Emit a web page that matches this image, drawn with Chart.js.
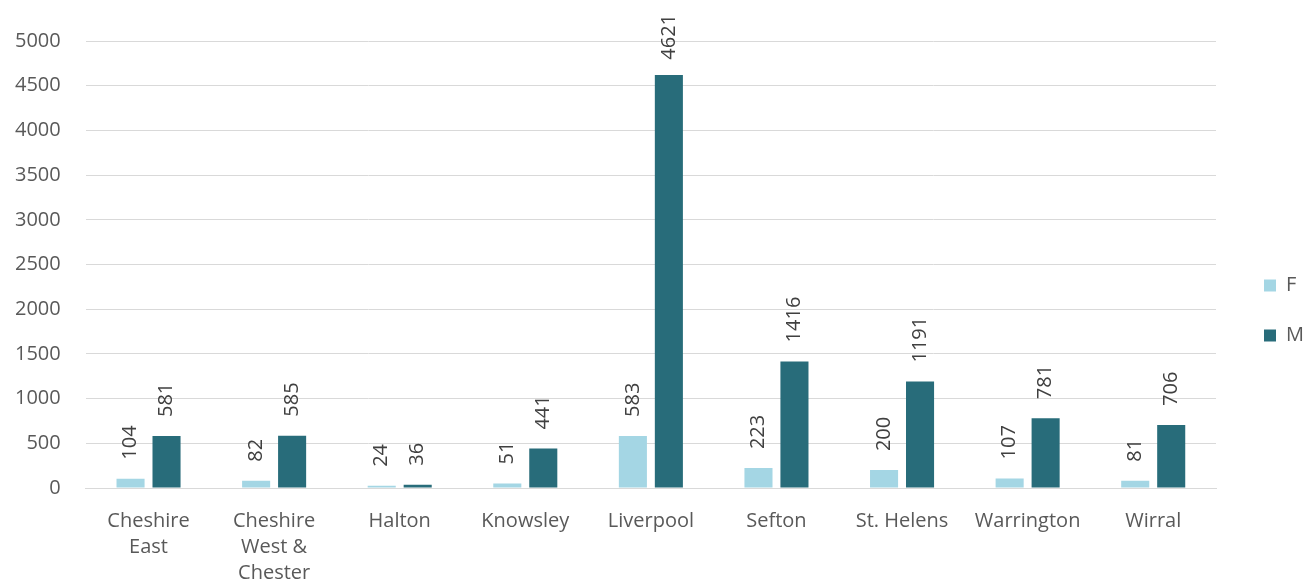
<!DOCTYPE html>
<html>
<head>
<meta charset="utf-8">
<script src="https://cdn.jsdelivr.net/npm/chart.js@4.4.0/dist/chart.umd.min.js"></script>
<style>
  html,body{margin:0;padding:0;background:#fff;}
  #wrap{width:1304px;height:584px;}
</style>
</head>
<body>
<div id="wrap"><canvas id="chart" width="1304" height="584"></canvas></div>
<script>
const areas=[["Cheshire","East"],["Cheshire","West &","Chester"],"Halton","Knowsley","Liverpool","Sefton","St. Helens","Warrington","Wirral"];
const femaleCounts=[104,82,24,51,583,223,200,107,81];
const maleCounts=[581,585,36,441,4621,1416,1191,781,706];
const yTicks=[0,500,1000,1500,2000,2500,3000,3500,4000,4500,5000];

const FONT="'Open Sans', 'Segoe UI', sans-serif";

// value labels, rotated, sitting above each bar (kept inside the canvas top)
const barValues={
  id:"barValues",
  afterDatasetsDraw(chart){
    const ctx=chart.ctx;
    ctx.save();
    ctx.font="20px "+FONT;
    ctx.fillStyle="#404040";
    ctx.textAlign="left";
    ctx.textBaseline="middle";
    chart.data.datasets.forEach((ds,i)=>{
      chart.getDatasetMeta(i).data.forEach((bar,j)=>{
        const txt=String(ds.data[j]);
        const w=ctx.measureText(txt).width;
        const y=Math.max(bar.y-19,w+14);
        ctx.save();
        ctx.translate(bar.x,y);
        ctx.rotate(-Math.PI/2);
        ctx.fillText(txt,0,0);
        ctx.restore();
      });
    });
    ctx.restore();
  }
};

// push the legend a bit further from the plot without widening the plot
const legendNudge={
  id:"legendNudge",
  afterLayout(chart){
    const lg=chart.legend;
    if(lg){ lg.left+=18; lg.right+=18; lg.top-=9; lg.bottom-=9; }
  }
};

new Chart(document.getElementById("chart"),{
  type:"bar",
  data:{
    labels:areas,
    datasets:[
      {label:"F",data:femaleCounts,backgroundColor:"#a4d6e4",categoryPercentage:0.573,barPercentage:0.78},
      {label:"M",data:maleCounts,backgroundColor:"#286c7a",categoryPercentage:0.573,barPercentage:0.78}
    ]
  },
  options:{
    responsive:false,
    animation:false,
    layout:{padding:{top:41,right:8,left:-10,bottom:-14}},
    plugins:{
      tooltip:{enabled:false},
      legend:{
        position:"right",
        align:"center",
        labels:{font:{family:FONT,size:20},color:"#595959",boxWidth:12,boxHeight:12,padding:30,useBorderRadius:false}
      }
    },
    scales:{
      x:{
        grid:{display:false},
        border:{color:"#d9d9d9",width:1},
        ticks:{font:{family:FONT,size:20,lineHeight:1.3},color:"#595959",maxRotation:0,padding:12}
      },
      y:{
        min:0,max:5000,
        afterBuildTicks(axis){axis.ticks=yTicks.map(v=>({value:v}));},
        grid:{color:"#d9d9d9",drawTicks:false},
        border:{display:false},
        ticks:{font:{family:FONT,size:20},color:"#595959",padding:25,callback:v=>String(v)}
      }
    }
  },
  plugins:[barValues,legendNudge]
});
</script>
</body>
</html>
